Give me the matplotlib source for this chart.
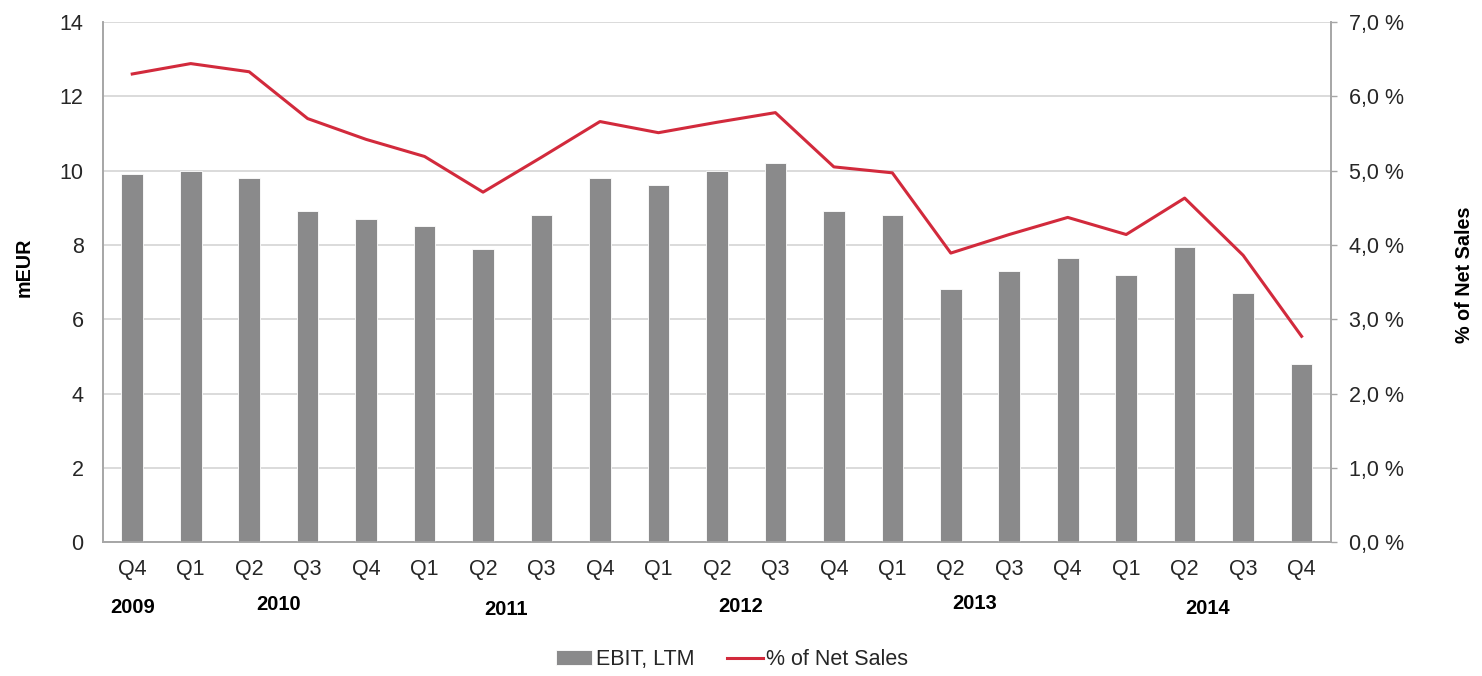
import matplotlib.pyplot as plt
from matplotlib.ticker import FuncFormatter

plt.rcParams['font.family'] = ['Liberation Sans', 'DejaVu Sans']

quarters = ['Q4', 'Q1', 'Q2', 'Q3', 'Q4', 'Q1', 'Q2', 'Q3', 'Q4', 'Q1', 'Q2',
            'Q3', 'Q4', 'Q1', 'Q2', 'Q3', 'Q4', 'Q1', 'Q2', 'Q3', 'Q4']
ebit = [9.9, 10.0, 9.8, 8.9, 8.7, 8.5, 7.9, 8.8, 9.8, 9.6, 10.0,
        10.2, 8.9, 8.8, 6.8, 7.3, 7.65, 7.2, 7.95, 6.7, 4.8]
pct_sales = [6.30, 6.44, 6.33, 5.70, 5.42, 5.19, 4.71, 5.18, 5.66, 5.51, 5.65,
             5.78, 5.05, 4.97, 3.89, 4.14, 4.37, 4.14, 4.63, 3.86, 2.77]
years = ['2009', '2010', '2011', '2012', '2013', '2014']
year_pos = [0.0, 2.5, 6.4, 10.4, 14.4, 18.4]
year_y = [-0.125, -0.119, -0.129, -0.123, -0.117, -0.127]

bar_col = '#8a8a8b'
line_col = '#d22a3c'
grid_col = '#d4d4d4'
spine_col = '#a6a6a6'
txt_col = '#262626'

fig = plt.figure(figsize=(14.82, 6.76), dpi=100)
ax = fig.add_axes([0.0695, 0.198, 0.8285, 0.7695])
ax2 = ax.twinx()

x = list(range(len(quarters)))
bars = ax.bar(x, ebit, width=0.37, color=bar_col, edgecolor='white',
              linewidth=0.6, label='EBIT, LTM', zorder=3)
line, = ax2.plot(x, pct_sales, color=line_col, lw=2.2, label='% of Net Sales')

ax.set_xlim(-0.5, len(quarters) - 0.5)
ax.set_ylim(0, 14)
ax.set_yticks(range(0, 15, 2))
ax2.set_ylim(0, 7)
ax2.set_yticks(range(0, 8))
ax2.yaxis.set_major_formatter(FuncFormatter(lambda v, p: f'{v:.1f} %'.replace('.', ',')))

ax.grid(axis='y', color=grid_col, lw=1.2, zorder=0)
ax.set_axisbelow(True)

ax.set_xticks(x)
ax.set_xticklabels(quarters)
ax.tick_params(axis='x', length=0, pad=12, labelsize=15.5, labelcolor=txt_col)
ax.tick_params(axis='y', length=0, pad=14, labelsize=15.5, labelcolor=txt_col)
ax2.tick_params(axis='y', length=4, width=1, color=spine_col, pad=9,
                labelsize=15.5, labelcolor=txt_col)

for a in (ax, ax2):
    a.spines['top'].set_visible(False)
    for s in ('left', 'right', 'bottom'):
        a.spines[s].set_color(spine_col)
        a.spines[s].set_linewidth(1.2)

for yr, xp, yp in zip(years, year_pos, year_y):
    ax.text(xp, yp, yr, transform=ax.get_xaxis_transform(), ha='center',
            va='center', fontsize=14.5, fontweight='bold', color='black')

fig.text(0.0165, 0.604, 'mEUR', rotation=90, ha='center', va='center',
         fontsize=14.2, fontweight='bold', color='black')
fig.text(0.988, 0.593, '% of Net Sales', rotation=90, ha='center', va='center',
         fontsize=14.2, fontweight='bold', color='black')

fig.legend([bars, line], ['EBIT, LTM', '% of Net Sales'], loc='center',
           bbox_to_anchor=(0.494, 0.024), ncol=2, frameon=False, fontsize=15.5,
           handlelength=1.7, handletextpad=0.15, columnspacing=1.5,
           labelcolor=txt_col)

fig.savefig('out.png', dpi=100)
